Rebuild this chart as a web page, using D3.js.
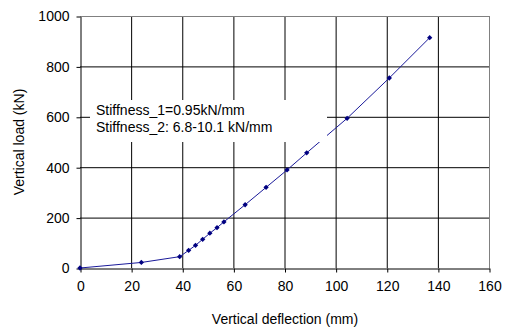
<!DOCTYPE html>
<html>
<head>
<meta charset="utf-8">
<script src="https://cdn.jsdelivr.net/npm/d3@7"></script>
<style>
  body { margin: 0; background: #fff; }
  text { font-family: Arial, "Liberation Sans", sans-serif; fill: #000; }
</style>
</head>
<body>
<div id="chart"></div>
<script>
// Load vs deflection readings
const deflection = [0, 24, 39, 42.5, 45.2, 48, 50.8, 53.6, 56.3, 64.6, 72.8, 81, 88.7, 104.5, 121, 136.8];
const load = [0, 22, 45, 70, 90, 114, 138, 160, 183, 251, 320, 389, 457, 594, 754, 914];
const xTicks = [0, 20, 40, 60, 80, 100, 120, 140, 160];
const yTicks = [0, 200, 400, 600, 800, 1000];
const notes = ["Stiffness_1=0.95kN/mm", "Stiffness_2: 6.8-10.1 kN/mm"];

const data = deflection.map((d, i) => ({ x: d, y: load[i] }));

const svg = d3.select("#chart")
  .append("svg")
  .attr("width", 506)
  .attr("height", 328);

const xScale = d3.scaleLinear().domain([0, 160]).range([80, 489]);
const yScale = d3.scaleLinear().domain([0, 1000]).range([268, 16]);

// grid
svg.append("g")
  .selectAll("line")
  .data(xTicks.slice(1))
  .join("line")
    .attr("x1", d => xScale(d) + 0.5).attr("x2", d => xScale(d) + 0.5)
    .attr("y1", yScale(1000)).attr("y2", yScale(0))
    .attr("stroke", d => d === 160 ? "#808080" : "#000")
    .attr("stroke-width", 1);

svg.append("g")
  .selectAll("line")
  .data(yTicks.slice(1))
  .join("line")
    .attr("x1", xScale(0)).attr("x2", xScale(160))
    .attr("y1", d => yScale(d) + 0.5).attr("y2", d => yScale(d) + 0.5)
    .attr("stroke", d => d === 1000 ? "#808080" : "#000")
    .attr("stroke-width", 1);

// axes
const xAxis = svg.append("g")
  .attr("transform", `translate(0.5,${yScale(0) + 0.5})`)
  .call(d3.axisBottom(xScale).tickValues(xTicks).tickFormat(d3.format("d"))
    .tickSize(4).tickSizeOuter(0).tickPadding(9));
const yAxis = svg.append("g")
  .attr("transform", `translate(${xScale(0) + 0.5},0.5)`)
  .call(d3.axisLeft(yScale).tickValues(yTicks).tickFormat(d3.format("d"))
    .tickSize(4).tickSizeOuter(0).tickPadding(7));

[xAxis, yAxis].forEach(a => {
  a.selectAll("text").style("font-size", "14px").attr("fill", "#000");
  a.selectAll("line, path").attr("stroke", "#000");
});

// data line
svg.append("path")
  .datum(data)
  .attr("fill", "none")
  .attr("stroke", "#1a1a9a")
  .attr("stroke-width", 1)
  .attr("d", d3.line().x(d => xScale(d.x)).y(d => yScale(d.y)));

svg.append("g")
  .selectAll("path")
  .data(data)
  .join("path")
    .attr("transform", d => `translate(${xScale(d.x)},${yScale(d.y)}) rotate(45)`)
    .attr("d", d3.symbol(d3.symbolSquare, 14))
    .attr("fill", "#000080");

// annotation box
svg.append("rect")
  .attr("x", 90).attr("y", 100)
  .attr("width", 237).attr("height", 42)
  .attr("fill", "#fff");

svg.append("g")
  .selectAll("text")
  .data(notes)
  .join("text")
    .attr("x", 96)
    .attr("y", (d, i) => 115 + i * 17)
    .style("font-size", "14px")
    .text(d => d);

// axis titles
svg.append("text")
  .attr("x", 285).attr("y", 324)
  .attr("text-anchor", "middle")
  .style("font-size", "14px")
  .text("Vertical deflection (mm)");

svg.append("text")
  .attr("transform", "translate(24,142) rotate(-90)")
  .attr("text-anchor", "middle")
  .style("font-size", "14px")
  .text("Vertical load (kN)");
</script>
</body>
</html>
